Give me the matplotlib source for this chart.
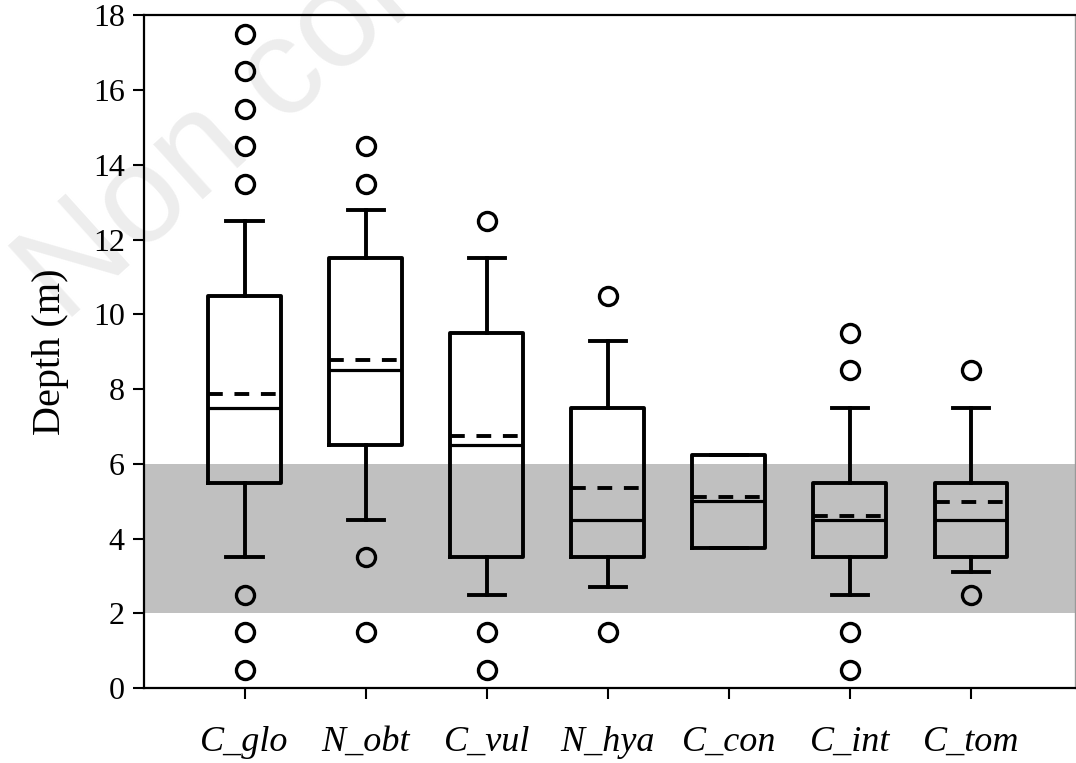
import matplotlib
matplotlib.use("Agg")
import matplotlib.pyplot as plt

# Box statistics (depth in m)
species = ["C_glo", "N_obt", "C_vul", "N_hya", "C_con", "C_int", "C_tom"]
q1 = [5.5, 6.5, 3.5, 3.5, 3.75, 3.5, 3.5]
q3 = [10.5, 11.5, 9.5, 7.5, 6.25, 5.5, 5.5]
medians = [7.5, 8.5, 6.5, 4.5, 5.0, 4.5, 4.5]
means = [7.87, 8.78, 6.74, 5.36, 5.12, 4.6, 4.98]
whis_lo = [3.5, 4.5, 2.5, 2.7, 3.75, 2.5, 3.1]
whis_hi = [12.5, 12.8, 11.5, 9.3, 6.25, 7.5, 7.5]
outliers = [
    [17.5, 16.5, 15.5, 14.5, 13.5, 2.5, 1.5, 0.5],
    [14.5, 13.5, 3.5, 1.5],
    [12.5, 1.5, 0.5],
    [10.5, 1.5],
    [],
    [9.5, 8.5, 1.5, 0.5],
    [8.5, 2.5],
]
band = (2, 6)

plt.rcParams["font.family"] = ["Liberation Serif", "DejaVu Serif"]

fig = plt.figure(figsize=(10.76, 7.63), dpi=100)
ax = fig.add_axes([0.134, 0.098, 0.865, 0.882])

# faint watermark, behind everything
fig.text(0.06, 0.575, "Non commercial use", fontsize=100, color="#ededed",
         family="Liberation Sans", rotation=42, rotation_mode="anchor",
         ha="left", va="baseline", zorder=-1)
ax.set_facecolor("none")

ax.axhspan(band[0], band[1], color="#c0c0c0", lw=0, zorder=0)

stats = []
for i, name in enumerate(species):
    stats.append(dict(label=name, q1=q1[i], q3=q3[i], med=medians[i],
                      mean=means[i], whislo=whis_lo[i], whishi=whis_hi[i],
                      fliers=outliers[i]))

lw = 2.8
ax.bxp(stats, widths=0.6, showmeans=True, meanline=True,
       boxprops=dict(color="black", lw=lw),
       whiskerprops=dict(color="black", lw=lw),
       capprops=dict(color="black", lw=lw),
       capwidths=0.3,
       medianprops=dict(color="black", lw=2.3),
       meanprops=dict(color="black", lw=2.8, linestyle=(0, (3.8, 3.0))),
       flierprops=dict(marker="o", markersize=13, markerfacecolor="none",
                       markeredgecolor="black", markeredgewidth=2.4))

ax.set_xlim(0.17, 7.86)
ax.set_ylim(0, 18)
ax.set_yticks(range(0, 19, 2))
ax.set_ylabel("Depth (m)", fontsize=29, labelpad=17)
ax.set_xticks(range(1, 8))
ax.set_xticklabels(species, fontsize=26, style="italic")
ax.tick_params(axis="y", labelsize=23, length=8, width=1.5, direction="out",
               pad=6)
ax.tick_params(axis="x", length=8, width=1.5, direction="out", pad=19)

for side in ["left", "bottom", "top"]:
    ax.spines[side].set_linewidth(1.6)
ax.spines["right"].set_color("#999999")
ax.spines["right"].set_linewidth(1.0)

fig.savefig("out.png", dpi=100)
